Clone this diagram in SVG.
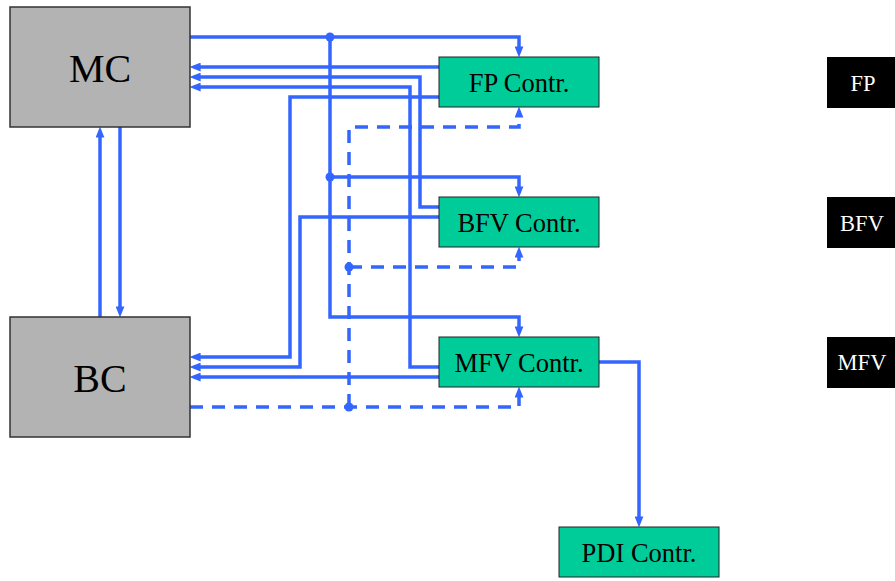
<svg xmlns="http://www.w3.org/2000/svg" width="895" height="581" viewBox="0 0 895 581">
<style>
.c{fill:none;stroke:#3366ff;stroke-width:3.5;marker-end:url(#ah)}
.d{fill:none;stroke:#3366ff;stroke-width:3.5;stroke-dasharray:13 9}
.dot{fill:#3366ff}
.gray{fill:#b3b3b3;stroke:#333;stroke-width:1.5}
.green{fill:#00cc99;stroke:#222;stroke-width:1}
.blk{fill:#000}
.big{font-family:"Liberation Serif","Times New Roman",serif;font-size:40px;text-anchor:middle;fill:#000}
.lbl{font-family:"Liberation Serif","Times New Roman",serif;font-size:26.5px;text-anchor:middle;fill:#000}
.wl{font-family:"Liberation Serif","Times New Roman",serif;font-size:22.5px;text-anchor:middle;fill:#fff}
</style>
<defs>
<marker id="ah" viewBox="0 0 10 8" refX="6" refY="4" markerWidth="11" markerHeight="9" markerUnits="userSpaceOnUse" orient="auto">
<path d="M0,0 L10,4 L0,8 z" fill="#3366ff"/>
</marker>
</defs>
<rect width="895" height="581" fill="#fff"/>
<g id="connectors">
<path class="c" d="M190,37 H519 V53"/>
<path class="c" d="M330,37 V317 H519 V333"/>
<path class="c" d="M330,177 H519 V193"/>
<path class="c" d="M439,67 H194"/>
<path class="c" d="M439,207 H420 V77 H194"/>
<path class="c" d="M439,367 H410 V87 H194"/>
<path class="c" d="M439,97 H290 V357 H194"/>
<path class="c" d="M439,217 H300 V367 H194"/>
<path class="c" d="M439,377 H194"/>
<path class="c" d="M599,362 H639 V523"/>
<path class="c" d="M100,317 V131"/>
<path class="c" d="M120,127 V313"/>
<path class="d" d="M190,407 H519 V391" marker-end="url(#ah)"/>
<path class="d" d="M349,407 V127 H519 V111" marker-end="url(#ah)"/>
<path class="d" d="M349,267 H519 V251" marker-end="url(#ah)"/>
<circle class="dot" cx="330" cy="37" r="4.5"/>
<circle class="dot" cx="330" cy="177" r="4.5"/>
<circle class="dot" cx="349" cy="267" r="4.5"/>
<circle class="dot" cx="349" cy="407" r="4.5"/>
</g>
<g id="MC"><rect class="gray" x="10" y="7" width="180" height="120"/><text class="big" x="100" y="82">MC</text></g>
<g id="BC"><rect class="gray" x="10" y="317" width="180" height="120"/><text class="big" x="100" y="392">BC</text></g>
<g id="FPContr"><rect class="green" x="439" y="57" width="160" height="50"/><text class="lbl" x="519" y="92">FP Contr.</text></g>
<g id="BFVContr"><rect class="green" x="439" y="197" width="160" height="50"/><text class="lbl" x="519" y="232">BFV Contr.</text></g>
<g id="MFVContr"><rect class="green" x="439" y="337" width="160" height="50"/><text class="lbl" x="519" y="372">MFV Contr.</text></g>
<g id="PDIContr"><rect class="green" x="559" y="527" width="160" height="50"/><text class="lbl" x="639" y="562">PDI Contr.</text></g>
<g id="FP"><rect class="blk" x="827" y="57" width="68" height="51"/><text class="wl" x="863" y="91">FP</text></g>
<g id="BFV"><rect class="blk" x="827" y="197" width="68" height="51"/><text class="wl" x="862" y="231">BFV</text></g>
<g id="MFV"><rect class="blk" x="827" y="337" width="68" height="51"/><text class="wl" x="862" y="370">MFV</text></g>
</svg>
